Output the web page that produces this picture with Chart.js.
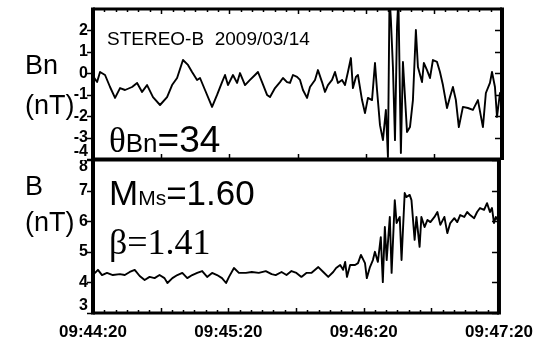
<!DOCTYPE html>
<html>
<head>
<meta charset="utf-8">
<script src="https://cdn.jsdelivr.net/npm/chart.js@4.4.1/dist/chart.umd.min.js"></script>
<style>
    body { margin: 0; background: #fff; }
    #wrap { position: relative; width: 542px; height: 340px; overflow: hidden; }
    canvas { position: absolute; left: 0; }
    #bnChart { top: 0; }
    #bChart { top: 160px; }
    .lbl {
        position: absolute;
        white-space: pre;
        line-height: 1;
        color: #000;
        font-family: "Liberation Sans", Arial, sans-serif;
    }
    .serif { font-family: "Liberation Serif", "Times New Roman", serif; }
</style>
</head>
<body>
<div id="wrap">
    <canvas id="bnChart" width="542" height="160"></canvas>
    <canvas id="bChart" width="542" height="180"></canvas>

    <div class="lbl" style="left:25px; top:52px; font-size:27px;">Bn</div>
    <div class="lbl" style="left:25px; top:92px; font-size:27px;">(nT)</div>
    <div class="lbl" style="left:107px; top:29px; font-size:19px;">STEREO-B  2009/03/14</div>
    <div class="lbl" style="left:109px; top:121px; font-size:37px;"><span class="serif" style="font-size:35px;">θ</span><span style="font-size:26px;">Bn</span>=34</div>

    <div class="lbl" style="left:25px; top:173px; font-size:27px;">B</div>
    <div class="lbl" style="left:25px; top:209px; font-size:27px;">(nT)</div>
    <div class="lbl" style="left:109px; top:175px; font-size:35px;">M<span style="font-size:21px;">Ms</span>=1.60</div>
    <div class="lbl serif" style="left:109px; top:224px; font-size:36px;">β=1.41</div>
</div>

<script>
// seconds after 09:44:20
const bnTime = [0, 1.8, 3.1, 5.3, 7.5, 9.7, 11.9, 14.1, 17.2, 19.4, 21.6, 23.8, 26.4, 29.5, 32.6, 34.8, 37.0, 39.6, 41.8, 43.6,
    45.8, 47.1, 49.3, 52.4, 54.6, 56.8, 58.1, 59.4, 61.6, 63.4, 64.7, 66.9, 69.1, 71.3, 72.6, 74.4, 76.6, 77.9, 80.1, 82.3,
    83.6, 85.4, 86.7, 88.0, 89.8, 91.1, 92.4, 94.2, 95.5, 97.7, 99.0, 100.8, 102.1, 103.4, 105.2, 106.5, 107.8, 109.6, 110.9, 112.2,
    113.5, 114.4, 115.7, 116.6, 118.4, 119.7, 121.0, 122.8, 124.1, 125.0, 126.3, 127.6, 128.9, 129.8, 130.5, 131.1, 132.0, 132.9, 133.8, 134.4,
    135.5, 136.4, 138.2, 139.5, 140.8, 142.1, 143.0, 144.8, 145.6, 147.0, 148.3, 149.6, 151.4, 152.7, 154.0, 155.8, 157.1, 158.4, 159.7, 161.0,
    162.8, 165.0, 167.2, 169.4, 171.6, 172.9, 174.7, 175.6, 176.9, 177.8, 179.1, 180];
const bnValues = [-0.13, -0.41, 0.06, -0.08, -0.64, -1.15, -0.69, -0.78, -0.64, -0.45, -0.87, -0.55, -1.11, -1.48, -1.11, -0.55, -0.22, 0.62, 0.39, 0.06,
    -0.31, -0.22, -0.78, -1.57, -1.01, -0.41, -0.08, -0.55, -0.08, -0.45, 0.01, -0.55, -0.31, -0.08, 0.06, -0.41, -1.01, -1.11, -0.69, -0.41,
    -0.22, -0.41, -0.45, -0.08, -0.17, -0.31, -0.78, -1.15, -0.64, -0.31, 0.15, -0.41, -0.87, -0.55, -0.31, 0.06, -0.45, -0.31, -0.55, 0.06,
    0.71, -0.69, -0.17, -0.08, -1.25, -1.86, -1.15, -1.25, 0.48, -0.78, -2.42, -3.12, -1.71, -3.91, 3.6, 2.49, 0.29, -3.12, 2.16, 3.5,
    -3.72, 0.53, -2.74, -2.51, -1.25, 2.02, 0.29, -0.41, 0.48, 0.15, -0.22, 0.62, 0.53, 0.06, -0.55, -1.62, -1.11, -0.64, -1.25, -2.51,
    -1.57, -1.62, -1.71, -1.25, -2.51, -0.92, -0.45, 0.06, -0.64, -2.04, -0.92, -1.57];

const bTime = [0, 0.9, 2.2, 4.0, 6.2, 8.8, 11.9, 14.1, 16.3, 18.5, 20.7, 22.9, 25.1, 27.3, 29.5, 31.7, 33.0, 35.2, 37.4, 39.6,
    41.8, 44.0, 46.2, 48.4, 50.6, 52.8, 55.0, 57.2, 59.0, 60.3, 62.5, 64.7, 67.8, 70.4, 73.5, 76.6, 79.2, 81.0, 83.6, 85.8,
    88.0, 90.2, 92.4, 94.6, 96.8, 99.9, 102.1, 104.3, 106.5, 107.8, 109.6, 110.9, 111.8, 112.6, 114.0, 116.2, 117.5, 118.8, 120.6, 121.4,
    122.8, 124.1, 125.0, 126.3, 127.6, 128.5, 129.4, 130.2, 131.6, 132.4, 133.8, 134.6, 136.0, 136.8, 138.2, 139.0, 140.4, 141.2, 142.6, 143.4,
    144.8, 145.6, 147.0, 148.3, 149.6, 151.4, 152.7, 154.0, 155.8, 157.1, 158.4, 160.2, 161.5, 162.8, 164.6, 165.9, 167.2, 169.0, 170.3, 171.6,
    173.4, 174.7, 176.0, 176.9, 177.8, 178.6, 180];
const bValues = [4.31, 4.31, 4.41, 4.24, 4.31, 4.24, 4.27, 4.24, 4.34, 4.41, 4.21, 4.08, 4.18, 4.14, 4.24, 4.14, 3.98, 4.14, 4.24, 4.31,
    4.14, 4.24, 4.31, 4.37, 4.18, 4.31, 4.24, 4.14, 3.98, 4.18, 4.47, 4.31, 4.31, 4.34, 4.31, 4.37, 4.27, 4.24, 4.34, 4.24,
    4.37, 4.31, 4.18, 4.31, 4.31, 4.50, 4.34, 4.18, 4.34, 4.47, 4.57, 4.41, 4.67, 4.18, 4.57, 4.57, 4.63, 4.90, 4.63, 4.14,
    4.50, 4.73, 5.00, 4.67, 5.48, 4.01, 5.81, 4.73, 6.14, 4.31, 6.69, 5.94, 6.14, 4.73, 6.92, 6.79, 6.86, 6.69, 5.39, 6.14,
    5.16, 6.14, 5.81, 6.04, 5.97, 6.14, 6.30, 5.88, 6.14, 5.61, 5.94, 6.10, 5.97, 6.20, 6.14, 6.30, 6.20, 6.10, 6.30, 6.43,
    6.37, 6.59, 6.30, 6.43, 5.94, 6.14, 5.97];

const timeTicks = [0, 60, 120, 180];
const timeLabels = ['09:44:20', '09:45:20', '09:46:20', '09:47:20'];
const bnTicks = [2, 1, 0, -1, -2, -3, -4];
const bTicks = [8, 7, 6, 5, 4, 3];

const FONT = '"Liberation Sans", Arial, sans-serif';

// box frame, inward ticks and the y labels for each panel
const panelFrame = {
    id: 'panelFrame',
    afterDraw(chart, args, opts) {
        const { ctx, chartArea } = chart;
        const { left, right, top, bottom } = chartArea;
        const xs = chart.scales.x;
        const ys = chart.scales.y;

        ctx.save();
        ctx.strokeStyle = '#000';
        ctx.fillStyle = '#000';

        // time ticks every 5 s, longer every 30 s
        ctx.lineWidth = 1.5;
        ctx.beginPath();
        for (let t = xs.min; t <= xs.max; t += 5) {
            const px = Math.round(xs.getPixelForValue(t)) + 0.5;
            const major = t % 30 === 0;
            if (opts.topTicks === 'all' || (opts.topTicks === 'major' && major)) {
                ctx.moveTo(px, top);
                ctx.lineTo(px, top + (major ? 5 : 3));
            }
            if (opts.bottomTicks === 'all' || (opts.bottomTicks === 'major' && major)) {
                ctx.moveTo(px, bottom);
                ctx.lineTo(px, bottom - (major ? 5 : 3));
            }
        }
        opts.yTicks.forEach(v => {
            const py = Math.round(ys.getPixelForValue(v)) + 0.5;
            ctx.moveTo(left - 6, py);
            ctx.lineTo(left, py);
            ctx.moveTo(right - 7, py);
            ctx.lineTo(right, py);
        });
        ctx.stroke();

        // frame
        ctx.lineWidth = 4;
        ctx.beginPath();
        ctx.moveTo(left, opts.frameTop ? top - 1.5 : 0);
        ctx.lineTo(left, opts.frameBottom ? bottom + 1.5 : chart.height);
        ctx.moveTo(right, opts.frameTop ? top - 1.5 : 0);
        ctx.lineTo(right, opts.frameBottom ? bottom + 1.5 : chart.height);
        ctx.stroke();
        ctx.lineWidth = 3;
        ctx.beginPath();
        ctx.moveTo(left, top);
        ctx.lineTo(right, top);
        ctx.moveTo(left, bottom);
        ctx.lineTo(right, bottom);
        ctx.stroke();

        // y labels, pulled inside the panel at the edges
        ctx.font = Chart.helpers.toFont({ family: 'Arial', size: 16, weight: 'bold' }).string;
        ctx.textAlign = 'right';
        ctx.textBaseline = 'middle';
        opts.yTicks.forEach(v => {
            const py = Math.min(Math.max(ys.getPixelForValue(v), top + 7), bottom - 7);
            ctx.fillText(String(v), left - 5, py);
        });
        ctx.restore();
    }
};

function series(times, values) {
    return [{
        data: times.map((t, i) => ({ x: t, y: values[i] })),
        borderColor: '#000',
        borderWidth: 1.9,
        borderJoinStyle: 'round',
        pointRadius: 0,
        tension: 0,
        fill: false
    }];
}

new Chart(document.getElementById('bnChart'), {
    type: 'line',
    data: { datasets: series(bnTime, bnValues) },
    options: {
        responsive: false,
        animation: false,
        devicePixelRatio: 1,
        layout: { padding: { left: 93, right: 40, top: 9, bottom: 1 } },
        plugins: {
            legend: { display: false },
            tooltip: { enabled: false },
            panelFrame: { yTicks: bnTicks, topTicks: 'all', bottomTicks: 'major', frameTop: true, frameBottom: false }
        },
        scales: {
            x: { type: 'linear', display: false, min: 0, max: 180 },
            y: { display: false, min: -4, max: 3 }
        }
    },
    plugins: [panelFrame]
});

new Chart(document.getElementById('bChart'), {
    type: 'line',
    data: { datasets: series(bTime, bValues) },
    options: {
        responsive: false,
        animation: false,
        devicePixelRatio: 1,
        layout: { padding: { left: 93, right: 40, top: 0, bottom: 0 } },
        plugins: {
            legend: { display: false },
            tooltip: { enabled: false },
            panelFrame: { yTicks: bTicks, topTicks: 'none', bottomTicks: 'all', frameTop: false, frameBottom: true }
        },
        scales: {
            x: {
                type: 'linear',
                min: 0,
                max: 180,
                afterFit: s => { s.height = 27; },
                afterBuildTicks: s => { s.ticks = timeTicks.map(v => ({ value: v })); },
                grid: { display: false, drawTicks: false },
                border: { display: false },
                ticks: {
                    autoSkip: false,
                    maxRotation: 0,
                    padding: 9,
                    color: '#000',
                    font: { family: FONT, size: 17, weight: 'bold' },
                    callback: v => timeLabels[timeTicks.indexOf(v)]
                }
            },
            y: { display: false, min: 3, max: 8 }
        }
    },
    plugins: [panelFrame]
});
</script>
</body>
</html>
